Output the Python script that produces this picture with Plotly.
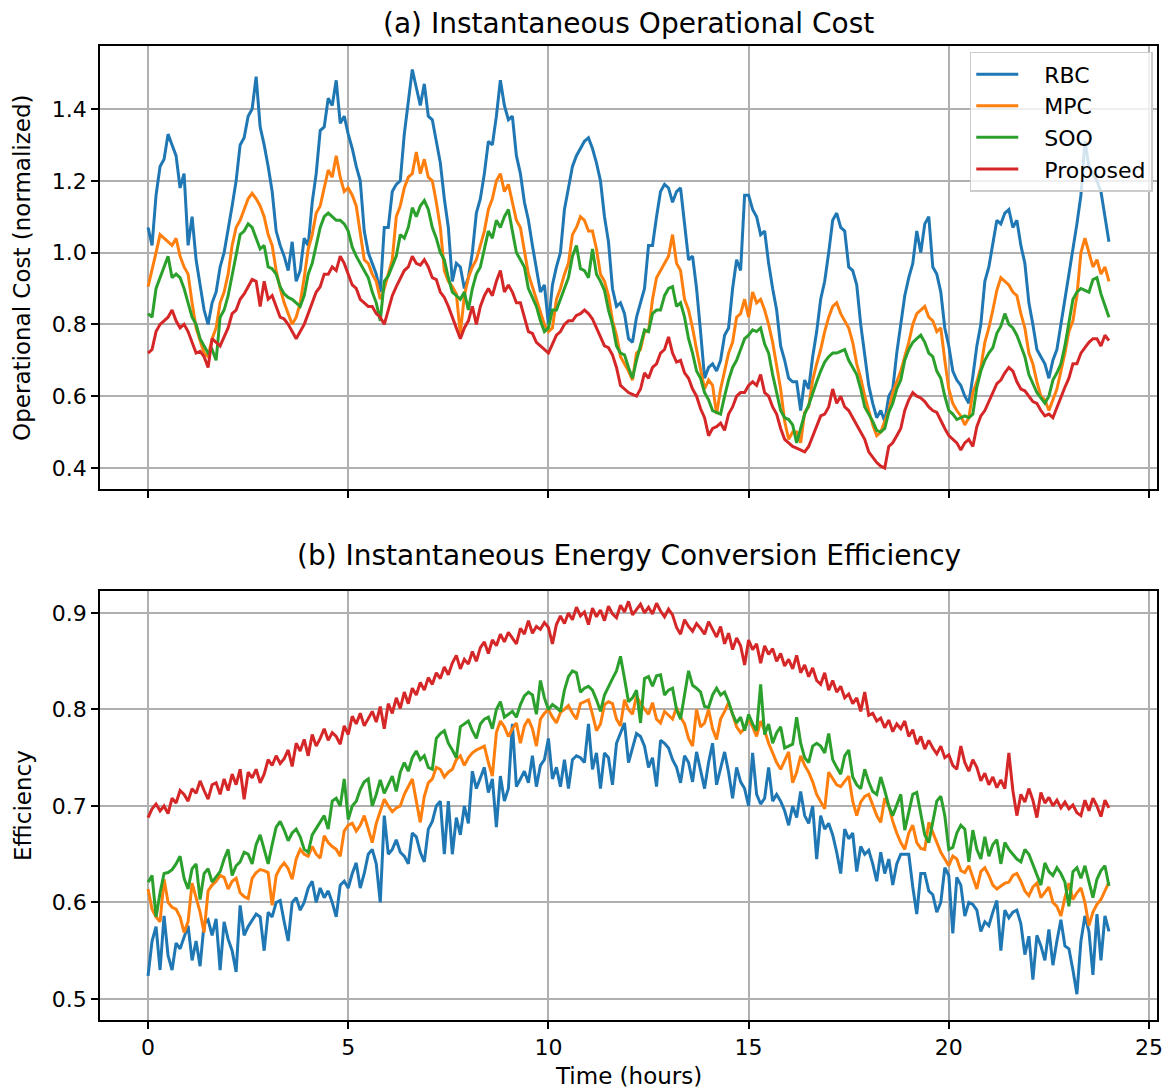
import plotly.graph_objects as go

# time axis (hours), 0.1 h sampling
time_h = [round(0.1 * i, 1) for i in range(241)]

series_names = ["RBC", "MPC", "SOO", "Proposed"]
series_colors = ["#1f77b4", "#ff7f0e", "#2ca02c", "#d62728"]

# ---------- (a) operational cost (normalized) ----------
rbc_cost = [
    1.07, 1.02, 1.16, 1.24, 1.26, 1.33, 1.30, 1.27, 1.18, 1.22,
    1.02, 1.10, 0.98, 0.91, 0.84, 0.80, 0.86, 0.89, 0.96, 1.00,
    1.06, 1.13, 1.20, 1.30, 1.32, 1.38, 1.40, 1.49, 1.35, 1.30,
    1.24, 1.17, 1.06, 1.02, 0.99, 0.95, 1.03, 0.92, 0.95, 1.04,
    1.02, 1.14, 1.22, 1.34, 1.35, 1.43, 1.41, 1.48, 1.36, 1.38,
    1.33, 1.29, 1.24, 1.20, 1.06, 1.00, 0.97, 0.94, 0.89, 1.07,
    1.07, 1.17, 1.19, 1.20, 1.33, 1.42, 1.51, 1.46, 1.41, 1.47,
    1.38, 1.37, 1.31, 1.25, 1.15, 1.07, 0.92, 0.97, 0.96, 0.90,
    0.93, 1.00, 1.11, 1.15, 1.22, 1.31, 1.30, 1.38, 1.48, 1.41,
    1.37, 1.38, 1.27, 1.22, 1.14, 1.09, 1.02, 0.95, 0.89, 0.91,
    0.80, 0.91, 0.96, 1.00, 1.12, 1.18, 1.24, 1.27, 1.29, 1.31,
    1.32, 1.29, 1.25, 1.20, 1.10, 1.03, 0.90, 0.85, 0.86, 0.83,
    0.76, 0.75, 0.82, 0.86, 0.90, 1.02, 1.02, 1.10, 1.17, 1.19,
    1.18, 1.14, 1.17, 1.18, 1.08, 0.98, 0.99, 0.90, 0.78, 0.65,
    0.68, 0.69, 0.67, 0.70, 0.77, 0.79, 0.90, 0.98, 0.95, 1.16,
    1.16, 1.12, 1.10, 1.05, 1.06, 0.97, 0.90, 0.84, 0.74, 0.70,
    0.65, 0.64, 0.64, 0.56, 0.645, 0.62, 0.71, 0.78, 0.87, 0.92,
    1.00, 1.09, 1.11, 1.07, 1.06, 0.96, 0.95, 0.91, 0.80, 0.71,
    0.63, 0.58, 0.54, 0.56, 0.53, 0.60, 0.62, 0.72, 0.80, 0.88,
    0.93, 0.97, 1.06, 1.00, 1.08, 1.10, 0.96, 0.94, 0.89, 0.79,
    0.74, 0.67, 0.645, 0.63, 0.60, 0.58, 0.655, 0.74, 0.80, 0.92,
    0.96, 1.03, 1.09, 1.08, 1.11, 1.12, 1.07, 1.09, 1.02, 0.97,
    0.86, 0.80, 0.73, 0.71, 0.69, 0.65, 0.70, 0.73, 0.80, 0.86,
    0.93, 1.00, 1.08, 1.16, 1.31, 1.24, 1.22, 1.20, 1.17, 1.10,
    1.03,
]
mpc_cost = [
    0.905, 0.95, 1.00, 1.05, 1.04, 1.03, 1.02, 1.04, 0.99, 0.96,
    0.94, 0.86, 0.79, 0.755, 0.72, 0.71, 0.76, 0.79, 0.86, 0.89,
    0.94, 1.02, 1.07, 1.09, 1.12, 1.15, 1.165, 1.15, 1.13, 1.10,
    1.05, 1.02, 0.95, 0.90, 0.86, 0.83, 0.80, 0.82, 0.86, 0.93,
    1.01, 1.05, 1.11, 1.13, 1.18, 1.23, 1.21, 1.27, 1.21, 1.17,
    1.18, 1.16, 1.13, 1.05, 0.98, 0.97, 0.94, 0.92, 0.87, 0.90,
    0.94, 0.98, 1.10, 1.13, 1.18, 1.21, 1.22, 1.28, 1.22, 1.26,
    1.21, 1.20, 1.14, 1.07, 0.95, 0.92, 0.905, 0.885, 0.775, 0.88,
    0.93, 0.96, 0.98, 1.02, 1.06, 1.12, 1.15, 1.20, 1.22, 1.17,
    1.19, 1.14, 1.09, 1.07, 1.01, 0.94, 0.905, 0.87, 0.84, 0.80,
    0.78, 0.79, 0.87, 0.90, 0.94, 0.97, 1.05, 1.07, 1.10, 1.09,
    1.06, 1.06, 1.01, 0.94, 0.92, 0.88, 0.81, 0.77, 0.71, 0.69,
    0.67, 0.645, 0.72, 0.73, 0.78, 0.78, 0.87, 0.93, 0.95, 0.97,
    0.99, 1.05, 0.97, 0.95, 0.87, 0.84, 0.79, 0.73, 0.67, 0.62,
    0.645, 0.63, 0.55, 0.62, 0.67, 0.72, 0.75, 0.82, 0.83, 0.87,
    0.82, 0.89, 0.86, 0.87, 0.84, 0.80, 0.75, 0.68, 0.62, 0.53,
    0.48, 0.50, 0.50, 0.47, 0.555, 0.57, 0.645, 0.69, 0.73, 0.78,
    0.82, 0.85, 0.86, 0.83, 0.81, 0.79, 0.75, 0.69, 0.65, 0.60,
    0.56, 0.52, 0.49, 0.50, 0.53, 0.56, 0.61, 0.64, 0.67, 0.71,
    0.75, 0.80, 0.83, 0.84, 0.85, 0.82, 0.81, 0.78, 0.79, 0.70,
    0.62, 0.58, 0.56, 0.545, 0.52, 0.54, 0.61, 0.64, 0.68, 0.75,
    0.79, 0.84, 0.895, 0.93, 0.92, 0.91, 0.89, 0.88, 0.83, 0.79,
    0.72, 0.69, 0.64, 0.60, 0.59, 0.56, 0.59, 0.62, 0.67, 0.72,
    0.78, 0.81, 0.88, 1.00, 1.04, 1.00, 0.96, 0.98, 0.94, 0.96,
    0.92,
]
soo_cost = [
    0.83, 0.82, 0.90, 0.93, 0.96, 0.99, 0.93, 0.94, 0.93, 0.90,
    0.86, 0.82, 0.80, 0.76, 0.74, 0.72, 0.73, 0.70, 0.82, 0.84,
    0.88, 0.94, 0.99, 1.05, 1.06, 1.08, 1.07, 1.04, 1.01, 1.02,
    0.96, 0.955, 0.94, 0.905, 0.885, 0.875, 0.87, 0.86, 0.85, 0.88,
    0.94, 0.97, 1.02, 1.07, 1.10, 1.11, 1.10, 1.09, 1.09, 1.08,
    1.06, 1.015, 0.99, 0.97, 0.95, 0.93, 0.89, 0.86, 0.81, 0.92,
    0.935, 0.96, 0.99, 1.05, 1.04, 1.07, 1.125, 1.10, 1.13, 1.145,
    1.12, 1.07, 1.04, 1.00, 0.98, 0.93, 0.89, 0.88, 0.87, 0.89,
    0.84, 0.90, 0.94, 0.96, 1.01, 1.06, 1.04, 1.09, 1.07, 1.10,
    1.12, 1.06, 1.00, 0.98, 0.96, 0.90, 0.875, 0.85, 0.81, 0.78,
    0.79, 0.84, 0.84, 0.87, 0.905, 0.93, 0.99, 1.02, 0.955, 0.95,
    0.93, 1.01, 0.94, 0.92, 0.895, 0.84, 0.80, 0.74, 0.72, 0.715,
    0.68, 0.65, 0.70, 0.74, 0.785, 0.78, 0.83, 0.84, 0.84, 0.88,
    0.90, 0.905, 0.85, 0.86, 0.82, 0.76, 0.72, 0.67, 0.65, 0.61,
    0.59, 0.56, 0.555, 0.55, 0.60, 0.645, 0.68, 0.70, 0.73, 0.76,
    0.77, 0.785, 0.78, 0.79, 0.745, 0.72, 0.66, 0.61, 0.56, 0.54,
    0.535, 0.52, 0.47, 0.51, 0.55, 0.575, 0.61, 0.64, 0.67, 0.695,
    0.71, 0.72, 0.72, 0.725, 0.73, 0.70, 0.68, 0.66, 0.62, 0.57,
    0.55, 0.53, 0.505, 0.50, 0.51, 0.555, 0.58, 0.62, 0.645, 0.70,
    0.73, 0.75, 0.76, 0.77, 0.75, 0.72, 0.71, 0.67, 0.65, 0.60,
    0.56, 0.55, 0.535, 0.54, 0.545, 0.54, 0.55, 0.625, 0.67, 0.70,
    0.72, 0.735, 0.775, 0.795, 0.83, 0.80, 0.79, 0.77, 0.74, 0.71,
    0.66, 0.635, 0.61, 0.595, 0.58, 0.60, 0.645, 0.665, 0.69, 0.74,
    0.80, 0.87, 0.89, 0.90, 0.895, 0.89, 0.925, 0.93, 0.885, 0.85,
    0.82,
]
proposed_cost = [
    0.72, 0.73, 0.78, 0.80, 0.81, 0.82, 0.84, 0.81, 0.79, 0.80,
    0.78, 0.75, 0.72, 0.725, 0.71, 0.68, 0.76, 0.75, 0.74, 0.765,
    0.79, 0.83, 0.84, 0.87, 0.885, 0.905, 0.925, 0.92, 0.85, 0.92,
    0.87, 0.88, 0.85, 0.82, 0.815, 0.80, 0.78, 0.76, 0.78, 0.80,
    0.83, 0.86, 0.89, 0.905, 0.94, 0.94, 0.96, 0.95, 0.99, 0.97,
    0.94, 0.91, 0.90, 0.87, 0.86, 0.85, 0.85, 0.83, 0.82, 0.80,
    0.84, 0.88, 0.905, 0.93, 0.95, 0.96, 0.99, 0.97, 0.965, 0.98,
    0.96, 0.93, 0.925, 0.89, 0.875, 0.85, 0.82, 0.79, 0.76, 0.79,
    0.81, 0.85, 0.80, 0.85, 0.88, 0.90, 0.88, 0.92, 0.95, 0.89,
    0.91, 0.89, 0.86, 0.86, 0.82, 0.78, 0.775, 0.75, 0.74, 0.73,
    0.72, 0.745, 0.77, 0.78, 0.80, 0.81, 0.81, 0.825, 0.83, 0.84,
    0.83, 0.815, 0.79, 0.77, 0.74, 0.735, 0.715, 0.68, 0.63, 0.62,
    0.61, 0.605, 0.60, 0.62, 0.665, 0.65, 0.68, 0.69, 0.72, 0.73,
    0.765, 0.72, 0.695, 0.70, 0.665, 0.65, 0.62, 0.60, 0.565, 0.54,
    0.49, 0.51, 0.515, 0.525, 0.505, 0.55, 0.57, 0.60, 0.61, 0.61,
    0.63, 0.64, 0.63, 0.66, 0.61, 0.60, 0.57, 0.55, 0.51, 0.48,
    0.47, 0.46, 0.455, 0.45, 0.445, 0.46, 0.49, 0.52, 0.545, 0.55,
    0.57, 0.62, 0.58, 0.60, 0.57, 0.56, 0.54, 0.52, 0.50, 0.48,
    0.445, 0.43, 0.415, 0.405, 0.40, 0.46, 0.47, 0.49, 0.51, 0.56,
    0.59, 0.61, 0.60, 0.595, 0.585, 0.57, 0.56, 0.555, 0.53, 0.51,
    0.49, 0.48, 0.47, 0.45, 0.47, 0.48, 0.46, 0.515, 0.545, 0.56,
    0.585, 0.61, 0.635, 0.645, 0.665, 0.68, 0.67, 0.64, 0.62, 0.615,
    0.60, 0.585, 0.58, 0.56, 0.545, 0.55, 0.54, 0.57, 0.60, 0.625,
    0.65, 0.69, 0.69, 0.72, 0.735, 0.75, 0.76, 0.76, 0.74, 0.77,
    0.755,
]

# ---------- (b) energy conversion efficiency ----------
rbc_eff = [
    0.524, 0.560, 0.575, 0.530, 0.586, 0.545, 0.530, 0.558, 0.552, 0.565,
    0.576, 0.540, 0.560, 0.534, 0.578, 0.582, 0.566, 0.583, 0.530, 0.580,
    0.562, 0.550, 0.528, 0.597, 0.566, 0.575, 0.582, 0.588, 0.585, 0.550,
    0.590, 0.585, 0.600, 0.602, 0.580, 0.560, 0.600, 0.605, 0.592, 0.600,
    0.615, 0.622, 0.600, 0.615, 0.605, 0.612, 0.600, 0.585, 0.618, 0.622,
    0.615, 0.630, 0.641, 0.615, 0.630, 0.650, 0.655, 0.640, 0.600, 0.690,
    0.650, 0.655, 0.665, 0.652, 0.648, 0.640, 0.672, 0.668, 0.652, 0.642,
    0.676, 0.684, 0.700, 0.705, 0.650, 0.705, 0.650, 0.688, 0.670, 0.700,
    0.682, 0.736, 0.718, 0.730, 0.740, 0.714, 0.728, 0.678, 0.731, 0.705,
    0.718, 0.785, 0.720, 0.728, 0.736, 0.724, 0.752, 0.720, 0.742, 0.748,
    0.770, 0.728, 0.740, 0.720, 0.748, 0.718, 0.748, 0.752, 0.750, 0.745,
    0.785, 0.738, 0.755, 0.718, 0.755, 0.750, 0.722, 0.765, 0.775, 0.786,
    0.745, 0.760, 0.775, 0.772, 0.762, 0.740, 0.750, 0.720, 0.768, 0.765,
    0.760, 0.748, 0.740, 0.724, 0.752, 0.745, 0.725, 0.756, 0.735, 0.718,
    0.745, 0.765, 0.722, 0.738, 0.756, 0.735, 0.708, 0.740, 0.725, 0.718,
    0.700, 0.755, 0.712, 0.702, 0.708, 0.740, 0.705, 0.712, 0.705, 0.695,
    0.680, 0.700, 0.688, 0.715, 0.690, 0.682, 0.700, 0.645, 0.690, 0.676,
    0.682, 0.670, 0.652, 0.630, 0.676, 0.666, 0.672, 0.632, 0.658, 0.650,
    0.654, 0.640, 0.622, 0.652, 0.630, 0.645, 0.618, 0.640, 0.650, 0.650,
    0.650, 0.616, 0.588, 0.630, 0.630, 0.612, 0.608, 0.590, 0.600, 0.636,
    0.628, 0.568, 0.626, 0.618, 0.586, 0.600, 0.598, 0.592, 0.570, 0.580,
    0.576, 0.590, 0.602, 0.550, 0.592, 0.584, 0.590, 0.592, 0.578, 0.546,
    0.565, 0.520, 0.566, 0.555, 0.540, 0.572, 0.535, 0.560, 0.582, 0.555,
    0.552, 0.530, 0.505, 0.560, 0.586, 0.570, 0.525, 0.588, 0.540, 0.586,
    0.570,
]
mpc_eff = [
    0.614, 0.593, 0.585, 0.580, 0.624, 0.600, 0.595, 0.593, 0.585, 0.569,
    0.580, 0.620, 0.605, 0.590, 0.569, 0.612, 0.618, 0.622, 0.628, 0.626,
    0.614, 0.622, 0.625, 0.610, 0.606, 0.604, 0.625, 0.631, 0.634, 0.633,
    0.631, 0.597, 0.628, 0.636, 0.641, 0.635, 0.624, 0.645, 0.655, 0.650,
    0.648, 0.658, 0.650, 0.646, 0.669, 0.662, 0.658, 0.655, 0.648, 0.674,
    0.680, 0.682, 0.674, 0.680, 0.690, 0.675, 0.662, 0.682, 0.695, 0.707,
    0.700, 0.694, 0.698, 0.700, 0.712, 0.720, 0.728, 0.705, 0.683, 0.710,
    0.724, 0.728, 0.740, 0.738, 0.730, 0.735, 0.738, 0.748, 0.752, 0.742,
    0.750, 0.755, 0.758, 0.760, 0.762, 0.745, 0.731, 0.776, 0.788, 0.782,
    0.772, 0.780, 0.786, 0.765, 0.783, 0.790, 0.780, 0.762, 0.790, 0.796,
    0.800, 0.792, 0.786, 0.797, 0.800, 0.804, 0.796, 0.790, 0.806, 0.808,
    0.810, 0.795, 0.778, 0.785, 0.805, 0.808, 0.806, 0.790, 0.783, 0.810,
    0.800, 0.795, 0.814, 0.806, 0.800, 0.795, 0.807, 0.790, 0.786, 0.798,
    0.794, 0.790, 0.802, 0.792, 0.785, 0.770, 0.762, 0.800, 0.782, 0.786,
    0.800, 0.780, 0.769, 0.790, 0.798, 0.807, 0.795, 0.782, 0.776, 0.780,
    0.790, 0.782, 0.772, 0.788, 0.778, 0.765, 0.755, 0.745, 0.738, 0.748,
    0.756, 0.724, 0.735, 0.752, 0.742, 0.735, 0.725, 0.712, 0.705, 0.697,
    0.735, 0.728, 0.722, 0.720, 0.725, 0.731, 0.705, 0.690, 0.704, 0.710,
    0.712, 0.700, 0.690, 0.683, 0.708, 0.700, 0.684, 0.672, 0.662, 0.655,
    0.672, 0.680, 0.662, 0.656, 0.655, 0.683, 0.672, 0.662, 0.652, 0.645,
    0.638, 0.648, 0.645, 0.633, 0.631, 0.638, 0.625, 0.614, 0.632, 0.636,
    0.628, 0.618, 0.614, 0.617, 0.620, 0.621, 0.628, 0.630, 0.622, 0.612,
    0.607, 0.616, 0.620, 0.605, 0.610, 0.616, 0.600, 0.596, 0.586, 0.605,
    0.620, 0.603, 0.610, 0.615, 0.600, 0.576, 0.590, 0.598, 0.603, 0.612,
    0.621,
]
soo_eff = [
    0.621, 0.628, 0.585, 0.610, 0.630, 0.631, 0.634, 0.640, 0.648, 0.625,
    0.614, 0.635, 0.640, 0.603, 0.630, 0.635, 0.621, 0.627, 0.632, 0.645,
    0.655, 0.628, 0.638, 0.642, 0.652, 0.650, 0.640, 0.660, 0.670, 0.655,
    0.640, 0.660, 0.678, 0.684, 0.675, 0.664, 0.672, 0.676, 0.668, 0.655,
    0.652, 0.670, 0.677, 0.684, 0.690, 0.676, 0.705, 0.708, 0.700, 0.728,
    0.686, 0.700, 0.705, 0.717, 0.725, 0.728, 0.700, 0.712, 0.727, 0.713,
    0.722, 0.731, 0.715, 0.735, 0.745, 0.736, 0.750, 0.757, 0.748, 0.752,
    0.740, 0.738, 0.770, 0.775, 0.778, 0.765, 0.758, 0.750, 0.782, 0.785,
    0.788, 0.778, 0.770, 0.785, 0.790, 0.792, 0.780, 0.800, 0.808, 0.792,
    0.795, 0.798, 0.792, 0.805, 0.814, 0.818, 0.815, 0.795, 0.830, 0.812,
    0.800, 0.805, 0.802, 0.798, 0.820, 0.834, 0.840, 0.838, 0.818, 0.822,
    0.824, 0.820, 0.810, 0.798, 0.815, 0.824, 0.832, 0.840, 0.855, 0.832,
    0.808, 0.812, 0.820, 0.786, 0.832, 0.834, 0.824, 0.835, 0.836, 0.815,
    0.820, 0.822, 0.800, 0.790, 0.815, 0.840, 0.825, 0.822, 0.818, 0.803,
    0.802, 0.815, 0.822, 0.815, 0.818, 0.808, 0.795, 0.786, 0.792, 0.778,
    0.795, 0.785, 0.778, 0.826, 0.774, 0.785, 0.765, 0.776, 0.782, 0.760,
    0.762, 0.764, 0.792, 0.765, 0.750, 0.745, 0.762, 0.765, 0.762, 0.755,
    0.775, 0.748, 0.740, 0.733, 0.752, 0.758, 0.730, 0.722, 0.718, 0.738,
    0.725, 0.715, 0.712, 0.730, 0.716, 0.700, 0.690, 0.702, 0.712, 0.675,
    0.695, 0.712, 0.714, 0.690, 0.670, 0.662, 0.685, 0.705, 0.710, 0.690,
    0.655, 0.657, 0.672, 0.680, 0.676, 0.642, 0.675, 0.655, 0.645, 0.668,
    0.648, 0.660, 0.665, 0.640, 0.662, 0.655, 0.650, 0.645, 0.642, 0.655,
    0.650, 0.640, 0.630, 0.618, 0.641, 0.632, 0.628, 0.636, 0.630, 0.621,
    0.596, 0.632, 0.636, 0.625, 0.638, 0.620, 0.605, 0.624, 0.633, 0.638,
    0.617,
]
proposed_eff = [
    0.688, 0.697, 0.702, 0.695, 0.700, 0.692, 0.708, 0.703, 0.716, 0.712,
    0.705, 0.718, 0.713, 0.726, 0.716, 0.707, 0.722, 0.724, 0.712, 0.728,
    0.716, 0.733, 0.722, 0.738, 0.707, 0.735, 0.729, 0.738, 0.724, 0.733,
    0.748, 0.742, 0.752, 0.744, 0.749, 0.758, 0.741, 0.765, 0.757, 0.769,
    0.752, 0.774, 0.762, 0.770, 0.780, 0.768, 0.776, 0.772, 0.764, 0.783,
    0.774, 0.793, 0.785, 0.796, 0.783, 0.791, 0.798, 0.787, 0.803, 0.780,
    0.806, 0.796, 0.812, 0.801, 0.818, 0.806, 0.822, 0.815, 0.828, 0.820,
    0.833, 0.826, 0.838, 0.832, 0.844, 0.836, 0.848, 0.856, 0.842, 0.852,
    0.847, 0.860, 0.850, 0.864, 0.870, 0.858, 0.872, 0.866, 0.878, 0.870,
    0.880, 0.874, 0.868, 0.884, 0.878, 0.892, 0.879, 0.886, 0.883, 0.890,
    0.885, 0.868, 0.888, 0.897, 0.889, 0.900, 0.893, 0.906, 0.897, 0.901,
    0.888, 0.905, 0.896, 0.903, 0.892, 0.907, 0.899, 0.895, 0.908, 0.901,
    0.912, 0.898, 0.904, 0.909, 0.900, 0.906, 0.899, 0.910, 0.902, 0.896,
    0.904, 0.898, 0.885, 0.878, 0.893, 0.886, 0.881, 0.889, 0.884, 0.878,
    0.891, 0.883, 0.875, 0.886, 0.868, 0.879, 0.862, 0.874, 0.866, 0.846,
    0.872, 0.862, 0.868, 0.848, 0.866, 0.857, 0.863, 0.850, 0.858, 0.845,
    0.852, 0.842, 0.856, 0.838, 0.846, 0.834, 0.843, 0.830, 0.826, 0.838,
    0.820, 0.830, 0.818, 0.824, 0.812, 0.816, 0.806, 0.812, 0.798, 0.818,
    0.794, 0.796, 0.788, 0.791, 0.781, 0.789, 0.777, 0.785, 0.780, 0.788,
    0.772, 0.779, 0.764, 0.772, 0.759, 0.768, 0.760, 0.754, 0.762, 0.750,
    0.753, 0.742, 0.738, 0.762, 0.745, 0.736, 0.748, 0.740, 0.726, 0.734,
    0.722, 0.730, 0.719, 0.727, 0.718, 0.755, 0.716, 0.690, 0.712, 0.704,
    0.718, 0.706, 0.688, 0.714, 0.703, 0.709, 0.700, 0.706, 0.698, 0.704,
    0.697, 0.701, 0.693, 0.690, 0.706, 0.695, 0.708, 0.700, 0.689, 0.706,
    0.698,
]

x_ticks = [0, 5, 10, 15, 20, 25]
cost_ticks = [0.4, 0.6, 0.8, 1.0, 1.2, 1.4]
eff_ticks = [0.5, 0.6, 0.7, 0.8, 0.9]

cost_series = [rbc_cost, mpc_cost, soo_cost, proposed_cost]
eff_series = [rbc_eff, mpc_eff, soo_eff, proposed_eff]

FONT = "DejaVu Sans"
NB = "\u00a0"
fig = go.Figure()
for name, color, vals in zip(series_names, series_colors, cost_series):
    fig.add_trace(go.Scatter(x=time_h, y=vals, mode="lines", name=NB * 3 + name,
                             line=dict(color=color, width=3),
                             xaxis="x", yaxis="y"))
for name, color, vals in zip(series_names, series_colors, eff_series):
    fig.add_trace(go.Scatter(x=time_h, y=vals, mode="lines", name=name,
                             line=dict(color=color, width=3),
                             xaxis="x2", yaxis="y2", showlegend=False))

axis_common = dict(showgrid=True, gridcolor="#b0b0b0", gridwidth=1.5,
                   showline=True, mirror=True, linecolor="black", linewidth=1.7,
                   ticks="outside", ticklen=7, tickwidth=1.7, tickcolor="black",
                   zeroline=False, tickfont=dict(family=FONT, size=22, color="black"))

fig.update_layout(
    width=1175, height=1089,
    margin=dict(l=100, r=12, t=46, b=69),
    paper_bgcolor="white", plot_bgcolor="white",
    font=dict(family=FONT, size=22, color="black"),
    xaxis=dict(domain=[0, 1], anchor="y", range=[-1.2, 25.2],
               tickmode="array", tickvals=x_ticks, showticklabels=False, **axis_common),
    yaxis=dict(domain=[0.5452, 1.0], anchor="x", range=[0.3415, 1.5755],
               tickmode="array", tickvals=cost_ticks,
               ticktext=[f"{v:.1f}" for v in cost_ticks], **axis_common),
    xaxis2=dict(domain=[0, 1], anchor="y2", range=[-1.2, 25.2],
                tickmode="array", tickvals=x_ticks, **axis_common),
    yaxis2=dict(domain=[0, 0.4405], anchor="x2", range=[0.4782, 0.9228],
                tickmode="array", tickvals=eff_ticks,
                ticktext=[f"{v:.1f}" for v in eff_ticks], **axis_common),
    legend=dict(x=0.996, y=0.994, xanchor="right", yanchor="top",
                bgcolor="rgba(255,255,255,0.8)", bordercolor="#cccccc", borderwidth=1.5,
                font=dict(family=FONT, size=22, color="black"),
                itemwidth=42, tracegroupgap=0),
    showlegend=True,
)

annots = [
    dict(text="(a) Instantaneous Operational Cost", x=0.5, y=1.0226,
         xanchor="center", yanchor="middle", font=dict(size=28)),
    dict(text="(b) Instantaneous Energy Conversion Efficiency", x=0.5, y=0.4764,
         xanchor="center", yanchor="middle", font=dict(size=28)),
    dict(text="Operational Cost (normalized)", x=-0.0734, y=0.7726, textangle=-90,
         xanchor="center", yanchor="middle", font=dict(size=23)),
    dict(text="Efficiency", x=-0.0734, y=0.2202, textangle=-90,
         xanchor="center", yanchor="middle", font=dict(size=23)),
    dict(text="Time (hours)", x=0.5, y=-0.0575,
         xanchor="center", yanchor="middle", font=dict(size=23)),
]
for a in annots:
    a.update(xref="paper", yref="paper", showarrow=False)
    a["font"].update(family=FONT, color="black")
    fig.add_annotation(**a)

fig.write_html("out.html")
